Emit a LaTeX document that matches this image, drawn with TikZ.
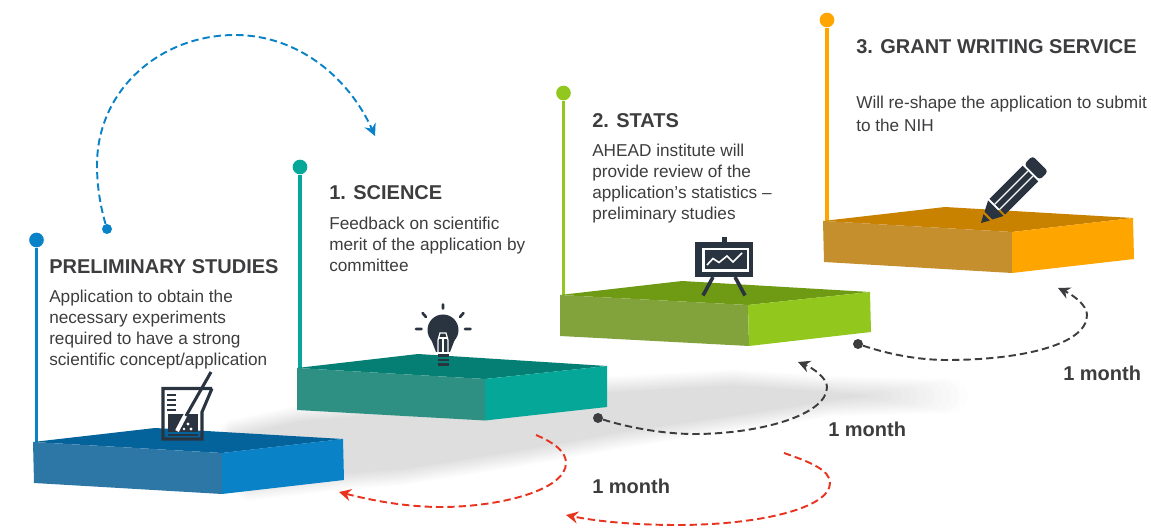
\documentclass[tikz,border=0pt]{standalone}
\usepackage{fontspec}
\setmainfont{Liberation Sans}
\usetikzlibrary{arrows.meta}
\definecolor{ink}{HTML}{3D3D3F}
\definecolor{icon}{HTML}{2A3440}
\definecolor{shadowgray}{HTML}{DEDEDE}
\definecolor{bluea}{HTML}{0A82C8}\definecolor{blueb}{HTML}{05639C}\definecolor{bluec}{HTML}{2C77A6}
\definecolor{teala}{HTML}{05A898}\definecolor{tealb}{HTML}{057F73}\definecolor{tealc}{HTML}{2E9083}
\definecolor{greena}{HTML}{92C81E}\definecolor{greenb}{HTML}{6F9B14}\definecolor{greenc}{HTML}{82A23C}
\definecolor{orangea}{HTML}{FFA500}\definecolor{orangeb}{HTML}{C98200}\definecolor{orangec}{HTML}{C48F2C}
\definecolor{redarc}{HTML}{E8331F}
\tikzset{
  x=0.75pt,y=-0.75pt,
  polestyle/.style={line width=2.4pt},
  bigdot/.style={circle,fill=#1,inner sep=0pt,minimum size=11pt},
  smalldot/.style={circle,fill=#1,inner sep=0pt,minimum size=7.5pt},
  title/.style={anchor=base west,inner sep=0pt,text=ink,font=\fontsize{15}{18}\selectfont\bfseries},
  body/.style={anchor=north west,inner sep=0pt,text=ink,align=left,font=\fontsize{12.9}{15.6}\selectfont},
  duration/.style={anchor=base west,inner sep=0pt,text=ink,font=\fontsize{15}{18}\selectfont\bfseries},
  arcline/.style={line width=1.45pt,dash pattern=on 5.5pt off 3pt,#1,-{Stealth[length=9pt,width=9pt,inset=3pt]}},
  ic/.style={fill=icon,draw=none},
  icl/.style={draw=icon,line cap=round},
}
\begin{document}
\begin{tikzpicture}
\useasboundingbox (0,0) rectangle (1151,530);
% soft shadow band, its right tail tapering off
\foreach \k in {0,...,14}{
  \pgfmathsetmacro{\lw}{(14-\k)*1.9}
  \pgfmathsetmacro{\mx}{\k*100/14}
  \pgfmathsetmacro{\tipx}{958-\k*7}
  \draw[line width=\lw pt,line join=round,draw=shadowgray!\mx!white,fill=shadowgray!\mx!white]
    (235,436) -- (300,422) -- (610,393) -- (733,386) -- (820,392) -- (\tipx,396)
    -- (830,400) -- (768,410) -- (625,431) -- (520,450) -- (400,469) -- (345,473) -- (250,484) -- cycle;
}
% poles
\node[bigdot=bluea] (pa) at (36.5,240) {};
\node[bigdot=teala] (pb) at (300,167) {};
\node[bigdot=greena] (pc) at (563.5,93) {};
\node[bigdot=orangea] (pd) at (827,20) {};
\coordinate (ba) at (36.5,444);
\coordinate (bb) at (300,370);
\coordinate (bc) at (563.5,297);
\coordinate (bd) at (827,223);
\draw[polestyle,bluea] (pa) -- (ba);
\draw[polestyle,teala] (pb) -- (bb);
\draw[polestyle,greena] (pc) -- (bc);
\draw[polestyle,orangea] (pd) -- (bd);
% platform 0
\fill[blueb] (33,442) -- (155,428) -- (343,439) -- (222,453) -- cycle;
\fill[bluec] (33,442) -- (222,453) -- (222,494) -- (34,483) -- cycle;
\fill[bluea] (222,453) -- (343,439) -- (344,480) -- (222,494) -- cycle;
% platform 1
\fill[tealb] (297,368) -- (418,354) -- (607,366) -- (485,379) -- cycle;
\fill[tealc] (297,368) -- (485,379) -- (485,420.5) -- (297,410) -- cycle;
\fill[teala] (485,379) -- (607,366) -- (607,407) -- (485,420.5) -- cycle;
% platform 2
\fill[greenb] (560,295) -- (682,281) -- (870,292) -- (748,305) -- cycle;
\fill[greenc] (560,295) -- (748,305) -- (749,346) -- (560,336) -- cycle;
\fill[greena] (748,305) -- (870,292) -- (871,332) -- (749,346) -- cycle;
% platform 3
\fill[orangeb] (823,221) -- (945,207) -- (1133,218) -- (1012,232) -- cycle;
\fill[orangec] (823,221) -- (1012,232) -- (1012,273) -- (824,262) -- cycle;
\fill[orangea] (1012,232) -- (1133,218) -- (1134,259) -- (1012,273) -- cycle;
% beaker icon
\draw[icon,line width=2.3pt,line join=miter] (212,388.5) -- (163,388.5) -- (163,439) -- (202,439) -- (202,412) -- (212,388.5);
\fill[ic] (167.5,414) rectangle (197.5,432);
\draw[icon,line width=1.2pt] (167.5,435) -- (197.5,435);
\foreach \yy in {395,400,405,410}{\draw[icon,line width=1.3pt] (167,\yy) -- (176,\yy);}
\draw[white,line width=3pt] (187,412) -- (177,431);
\draw[icon,line width=2.3pt] (211,372) -- (186,416);
\fill[white] (188,424) circle (1.7) (191,429) circle (1.7) (184,429) circle (1.4);
% bulb icon
\fill[ic] (443,330) circle (15.5);
\fill[ic] (431,339) -- (455,339) -- (450,352) -- (436,352) -- cycle;
\draw[white,line width=0.9pt] (438,352) -- (438,340) -- (440,333) -- (446,333) -- (448,340) -- (448,352);
\draw[white,line width=0.8pt] (443,352) -- (443,338) (438.5,338) -- (447.5,338);
\foreach \yy in {355.5,360,364.5}{\draw[icon,line width=1.9pt] (437.5,\yy) -- (448.5,\yy);}
\draw[icl,line width=2pt] (443,304.5) -- (443,308.5) (416,329) -- (421.5,329) (465,329) -- (470.5,329)
  (422.5,313) -- (426,317) (463.5,313) -- (460,317);
% easel icon
\fill[ic] (694.5,242) rectangle (753,277.5);
\fill[ic] (721.5,237) rectangle (726.5,243);
\fill[white] (702,248) rectangle (749,272);
\fill[ic] (704.5,250.5) rectangle (746.5,269.5);
\draw[white,line width=1.2pt] (707,265) -- (713,258.5) -- (719,262.5) -- (727,256) -- (733,262) -- (742,253);
\draw[icon,line width=2.7pt] (713,277) -- (703,295.5) (735,277) -- (745,295.5);
% pencil icon
\begin{scope}[shift={(981,223)},x={(.53pt,.53pt)},y={(.53pt,-.53pt)}]
  \fill[ic] (0,0) -- (8,-4.5) -- (8,4.5) -- cycle;
  \fill[ic] (10.5,-5.5) -- (21,-11) -- (21,11) -- (10.5,5.5) -- cycle;
  \fill[ic] (23,-11) -- (70,-11) -- (70,11) -- (23,11) -- cycle;
  \fill[ic,rounded corners=2.5pt] (72,-11) -- (84,-11) -- (84,11) -- (72,11) -- cycle;
  \draw[white,line width=.9pt] (23,-3.5) -- (70,-3.5) (23,3.5) -- (70,3.5);
\end{scope}
% arcs
\node[smalldot=bluea] (sa) at (107,229) {};
\coordinate (ea) at (375,136);
\draw[arcline=bluea] (sa) .. controls (100,205) and (97,185) .. (97,165)
  .. controls (97,90) and (160,35) .. (235,35)
  .. controls (300,35) and (350,80) .. (ea);
\coordinate (sb) at (536,435);
\coordinate (eb) at (339,492);
\draw[arcline=redarc] (sb) .. controls (555,443) and (566,452) .. (566,463)
  .. controls (566,490) and (500,507) .. (441,507)
  .. controls (405,507) and (370,500) .. (eb);
\coordinate (sc) at (784,453);
\coordinate (ec) at (566,515);
\draw[arcline=redarc] (sc) .. controls (810,462) and (830,470) .. (830,483)
  .. controls (830,508) and (760,525) .. (677,525)
  .. controls (640,525) and (600,522) .. (ec);
\node[smalldot=ink] (sd) at (598,418) {};
\coordinate (ed) at (798,362);
\draw[arcline=ink] (sd) .. controls (630,428) and (665,434) .. (694,434)
  .. controls (760,434) and (827,415) .. (827,387)
  .. controls (827,378) and (813,368) .. (ed);
\node[smalldot=ink] (se) at (858,344) {};
\coordinate (ee) at (1058,288);
\draw[arcline=ink] (se) .. controls (885,353) and (915,360) .. (947,360)
  .. controls (1020,360) and (1087,345) .. (1087,315)
  .. controls (1087,305) and (1073,295) .. (ee);
% texts
\node[title] (t0) at (49,274) {PRELIMINARY STUDIES};
\node[body] (d0) at (49,290) {Application to obtain the\\necessary experiments\\required to have a strong\\scientific concept/application};
\node[title] (t1) at (329,200) {1. SCIENCE};
\node[body] (d1) at (329,217) {Feedback on scientific\\merit of the application by\\committee};
\node[title] (t2) at (592,128) {2. STATS};
\node[body] (d2) at (592,144) {AHEAD institute will\\provide review of the\\application’s statistics –\\preliminary studies};
\node[title] (t3) at (856,54) {3. GRANT WRITING SERVICE};
\node[body,font=\fontsize{12.9}{17}\selectfont] (d3) at (856,96) {Will re-shape the application to submit\\to the NIH};
\node[duration] (m1) at (592,493) {1 month};
\node[duration] (m2) at (828,436) {1 month};
\node[duration] (m3) at (1063,380) {1 month};
\end{tikzpicture}
\end{document}
